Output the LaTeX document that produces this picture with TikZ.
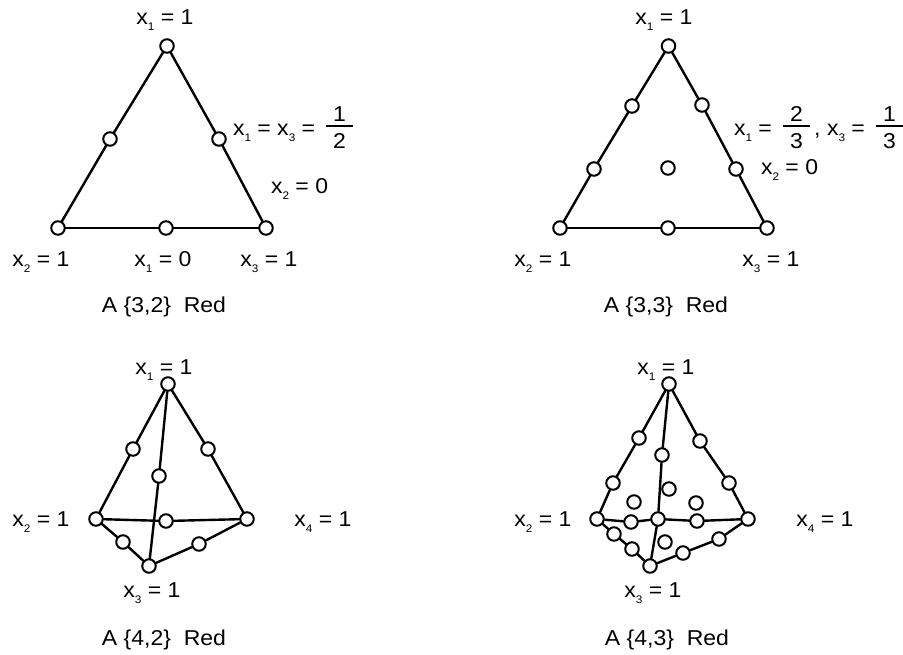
\documentclass[tikz,border=0pt]{standalone}
\usepackage{fontspec}
\setmainfont[FakeStretch=1.07]{Liberation Sans}
\newcommand\xs[1]{x\raisebox{-0.3em}{\fontsize{11}{11}\selectfont #1}}
\tikzset{
  pt/.style={circle,draw=black,fill=white,line width=2pt,minimum size=13.5pt,inner sep=0pt},
  edge/.style={line width=2.4pt,line cap=round},
  lab/.style={inner sep=0pt,outer sep=0pt,anchor=base,yshift=-1pt,font=\fontsize{21.5}{24}\selectfont},
  labl/.style={lab,anchor=base west},
  bar/.style={line width=1.5pt}
}
\begin{document}
\begin{tikzpicture}[x=1pt,y=-1pt]
\useasboundingbox (0,0) rectangle (903,654);
% Panel A {3,2}
\node[pt] (a1) at (167,46) {};
\node[pt] (a2) at (110,139) {};
\node[pt] (a3) at (219,139) {};
\node[pt] (a4) at (58,228) {};
\node[pt] (a5) at (166,228) {};
\node[pt] (a6) at (266,228) {};
\draw[edge] (a1)--(a2); \draw[edge] (a2)--(a4); \draw[edge] (a4)--(a5);
\draw[edge] (a5)--(a6); \draw[edge] (a6)--(a3); \draw[edge] (a3)--(a1);
\node[lab] at (165,23) {\xs1 = 1};
\node[lab] at (41,265) {\xs2 = 1};
\node[lab] at (163,265) {\xs1 = 0};
\node[lab] at (269,265) {\xs3 = 1};
\node[lab] at (164,311) {A \{3,2\}\ \ Red};
\node[labl] at (233,134) {\xs1 = \xs3 =};
\coordinate (ab1) at (326,126); \coordinate (ab2) at (353,126);
\draw[bar] (ab1)--(ab2);
\node[lab] at (339.5,120) {1};
\node[lab] at (339.5,147) {2};
\node[labl] at (271,192) {\xs2 = 0};
% Panel A {3,3}
\node[pt] (b1) at (668.5,46) {};
\node[pt] (b2) at (632,106) {};
\node[pt] (b3) at (702,105) {};
\node[pt] (b4) at (594,169) {};
\node[pt] (b5) at (736,169) {};
\node[pt] (b6) at (668,168) {};
\node[pt] (b7) at (560,228) {};
\node[pt] (b8) at (668,228) {};
\node[pt] (b9) at (767,228) {};
\draw[edge] (b1)--(b2); \draw[edge] (b2)--(b4); \draw[edge] (b4)--(b7);
\draw[edge] (b7)--(b8); \draw[edge] (b8)--(b9); \draw[edge] (b9)--(b5);
\draw[edge] (b5)--(b3); \draw[edge] (b3)--(b1);
\node[lab] at (664,23) {\xs1 = 1};
\node[lab] at (543,265) {\xs2 = 1};
\node[lab] at (771,265) {\xs3 = 1};
\node[lab] at (666,311) {A \{3,3\}\ \ Red};
\node[labl] at (734,134) {\xs1 =};
\coordinate (bb1) at (783,126); \coordinate (bb2) at (810,126);
\draw[bar] (bb1)--(bb2);
\node[lab] at (796.5,120) {2};
\node[lab] at (796.5,147) {3};
\node[labl] at (814,134) {,};
\node[labl] at (827,134) {\xs3 =};
\coordinate (bb3) at (876,126); \coordinate (bb4) at (903,126);
\draw[bar] (bb3)--(bb4);
\node[lab] at (889.5,120) {1};
\node[lab] at (889.5,147) {3};
\node[labl] at (761,173) {\xs2 = 0};
% Panel A {4,2}
\node[pt] (c1) at (168,384) {};
\node[pt] (c2) at (133,449) {};
\node[pt] (c3) at (208,449) {};
\node[pt] (c4) at (159,476) {};
\node[pt] (c5) at (96,519) {};
\node[pt] (c6) at (166,521) {};
\node[pt] (c7) at (247,519) {};
\node[pt] (c8) at (123,542) {};
\node[pt] (c9) at (199,544) {};
\node[pt] (c10) at (149,566) {};
\draw[edge] (c1)--(c2); \draw[edge] (c2)--(c5);
\draw[edge] (c1)--(c3); \draw[edge] (c3)--(c7);
\draw[edge] (c1)--(c4); \draw[edge] (c4)--(c10);
\draw[edge] (c5)--(c6); \draw[edge] (c6)--(c7);
\draw[edge] (c5)--(c8); \draw[edge] (c8)--(c10);
\draw[edge] (c10)--(c9); \draw[edge] (c9)--(c7);
\node[lab] at (164,373) {\xs1 = 1};
\node[lab] at (41,525) {\xs2 = 1};
\node[lab] at (323,525) {\xs4 = 1};
\node[lab] at (152,596) {\xs3 = 1};
\node[lab] at (164,644) {A \{4,2\}\ \ Red};
% Panel A {4,3}
\node[pt] (d1) at (669,384) {};
\node[pt] (d2) at (639,438) {};
\node[pt] (d3) at (700,441) {};
\node[pt] (d4) at (613,483) {};
\node[pt] (d5) at (729,483) {};
\node[pt] (d6) at (662,455) {};
\node[pt] (d7) at (669,489) {};
\node[pt] (d8) at (634,502) {};
\node[pt] (d9) at (696,503) {};
\node[pt] (d10) at (597,519) {};
\node[pt] (d11) at (631,522) {};
\node[pt] (d12) at (658,519) {};
\node[pt] (d13) at (697,521) {};
\node[pt] (d14) at (748,519) {};
\node[pt] (d15) at (614,534) {};
\node[pt] (d16) at (632,549) {};
\node[pt] (d17) at (665,542) {};
\node[pt] (d18) at (683,553) {};
\node[pt] (d19) at (719,539) {};
\node[pt] (d20) at (650,566) {};
\draw[edge] (d1)--(d2); \draw[edge] (d2)--(d4); \draw[edge] (d4)--(d10);
\draw[edge] (d1)--(d3); \draw[edge] (d3)--(d5); \draw[edge] (d5)--(d14);
\draw[edge] (d1)--(d6); \draw[edge] (d6)--(d12); \draw[edge] (d12)--(d20);
\draw[edge] (d10)--(d11); \draw[edge] (d11)--(d12); \draw[edge] (d12)--(d13); \draw[edge] (d13)--(d14);
\draw[edge] (d10)--(d15); \draw[edge] (d15)--(d16); \draw[edge] (d16)--(d20);
\draw[edge] (d20)--(d18); \draw[edge] (d18)--(d19); \draw[edge] (d19)--(d14);
\node[lab] at (666,373) {\xs1 = 1};
\node[lab] at (543,525) {\xs2 = 1};
\node[lab] at (825,525) {\xs4 = 1};
\node[lab] at (653,596) {\xs3 = 1};
\node[lab] at (667,644) {A \{4,3\}\ \ Red};
\end{tikzpicture}
\end{document}
